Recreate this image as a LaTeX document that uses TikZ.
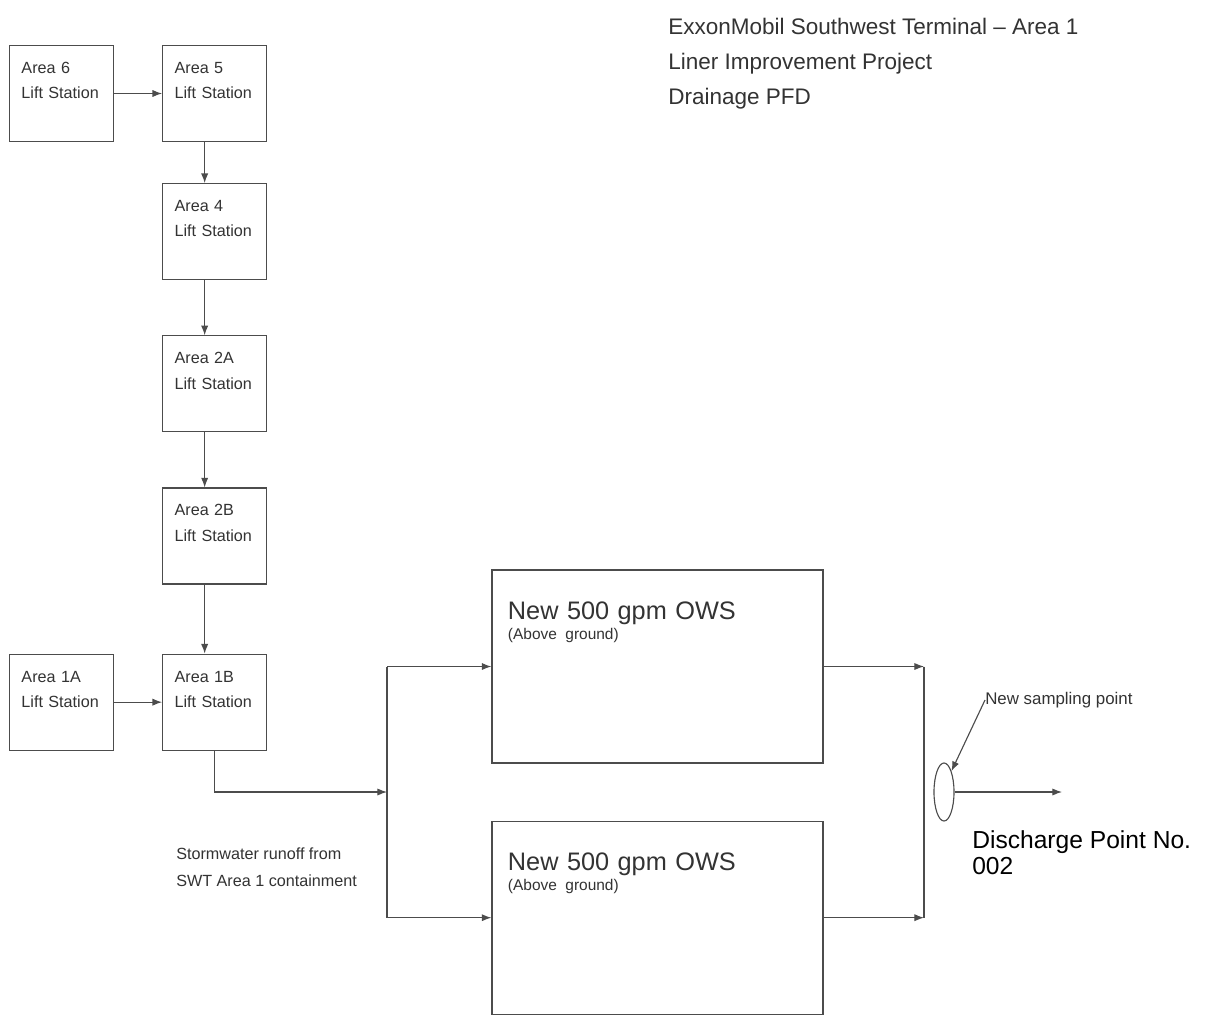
\documentclass[tikz,border=0pt]{standalone}
\usepackage{fontspec}
\setmainfont{Liberation Sans}
\usetikzlibrary{arrows.meta,positioning,shapes.geometric}

\begin{document}
\begin{tikzpicture}[
  x=0.025cm,y=-0.025cm,
  >={Latex[length=2.4mm,width=1.8mm]},
  station/.style={draw=black!70,line width=0.8pt,text=black!80,
    minimum width=2.6cm,minimum height=2.4cm,
    text width=2cm,align=left,inner xsep=0.3cm,inner ysep=0.25cm,
    text height=0.45cm,text depth=1.45cm,
    font=\fontsize{11.5}{18}\selectfont},
  separator/.style={draw=black!70,line width=0.8pt,text=black!80,
    minimum width=8.275cm,minimum height=4.825cm,
    text width=7.475cm,align=left,inner xsep=0.4cm,inner ysep=0.25cm,
    text height=0.975cm,text depth=3.35cm,
    font=\fontsize{18}{14.5}\selectfont},
  pipe/.style={draw=black!70,line width=0.8pt},
  flow/.style={pipe,->},
  note/.style={text=black!80,align=left,inner sep=0pt}
]
  \path[fill=white,use as bounding box] (0,0) rectangle (1216,1015);

  \node[station] (area6) at (61.5,93.5) {Area 6\\Lift Station};
  \node[station,right=1.2cm of area6] (area5) {Area 5\\Lift Station};
  \node[station,below=1.025cm of area5] (area4) {Area 4\\Lift Station};
  \node[station,below=1.375cm of area4] (area2a) {Area 2A\\Lift Station};
  \node[station,below=1.375cm of area2a] (area2b) {Area 2B\\Lift Station};
  \node[station,below=1.725cm of area2b] (area1b) {Area 1B\\Lift Station};
  \node[station,left=1.2cm of area1b] (area1a) {Area 1A\\Lift Station};

  \node[separator] (ows1) at (657.5,666.5)
    {New 500 gpm OWS\\{\fontsize{11}{14.5}\selectfont(Above ground)}};
  \node[separator,below=1.425cm of ows1] (ows2)
    {New 500 gpm OWS\\{\fontsize{11}{14.5}\selectfont(Above ground)}};

  \node[ellipse,draw=black!70,line width=0.8pt,minimum width=0.5cm,
    minimum height=1.45cm,inner sep=0pt] (samp) at (944,792) {};

  \node[note,anchor=north west,font=\fontsize{16}{24.9}\selectfont] (title) at (668,18)
    {ExxonMobil Southwest Terminal – Area 1\\Liner Improvement Project\\Drainage PFD};
  \node[note,anchor=west,font=\fontsize{11.5}{19.5}\selectfont] (runoff) at (176,867)
    {Stormwater runoff from\\SWT Area 1 containment};
  \node[note,anchor=west,font=\fontsize{12}{14}\selectfont] (sampnote) at (985,700)
    {New sampling point};
  \node[anchor=north west,inner sep=0pt,align=left,
    font=\fontsize{17.5}{18.5}\selectfont] (dp) at (972,830) {Discharge Point No.\\002};

  \coordinate (split) at (387,792);
  \coordinate (merge) at (924,792);
  \coordinate (outlet) at (1062,792);

  \draw[flow] (area6) -- (area5);
  \draw[flow] ([xshift=-2.5mm]area5.south) -- ([xshift=-2.5mm]area4.north);
  \draw[flow] ([xshift=-2.5mm]area4.south) -- ([xshift=-2.5mm]area2a.north);
  \draw[flow] ([xshift=-2.5mm]area2a.south) -- ([xshift=-2.5mm]area2b.north);
  \draw[flow] ([xshift=-2.5mm]area2b.south) -- ([xshift=-2.5mm]area1b.north);
  \draw[flow] (area1a) -- (area1b);
  \draw[flow] (area1b.south) |- (split);

  \draw[pipe] (split |- ows1.west) -- (split |- ows2.west);
  \draw[flow] (split |- ows1.west) -- (ows1);
  \draw[flow] (split |- ows2.west) -- (ows2);
  \draw[flow] (ows1) -- (ows1.east -| merge);
  \draw[flow] (ows2) -- (ows2.east -| merge);
  \draw[pipe] (ows1.east -| merge) -- (ows2.east -| merge);

  \draw[flow] (samp) -- (outlet);
  \draw[flow] (sampnote.west) -- (samp.north east);
\end{tikzpicture}
\end{document}
